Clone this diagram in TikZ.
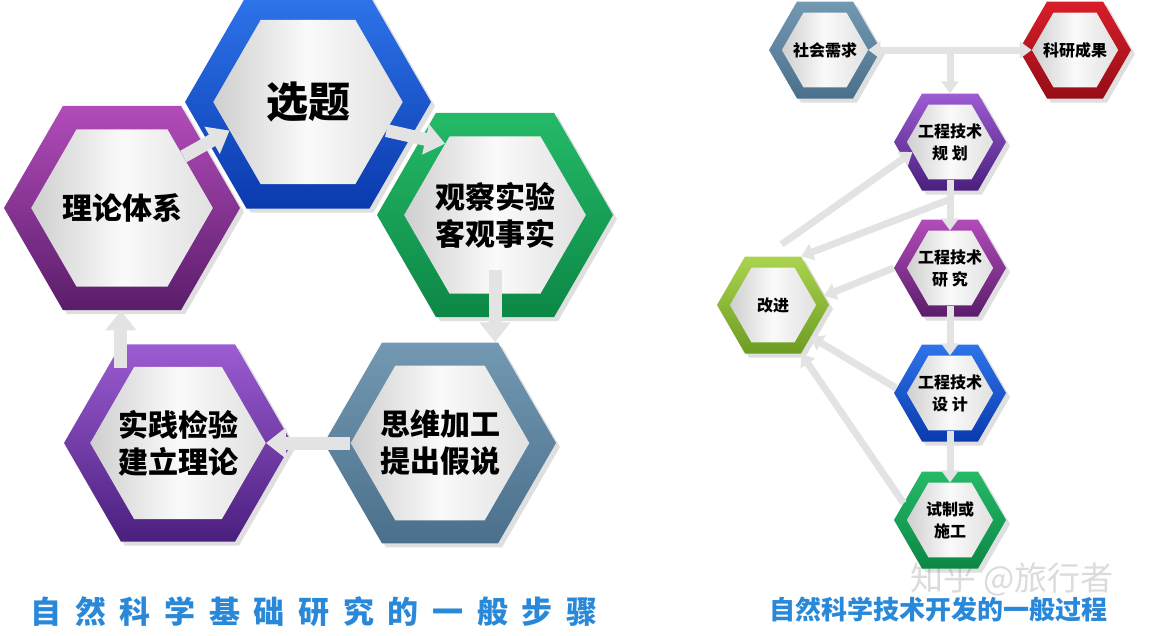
\documentclass[tikz,border=0pt]{standalone}
\usepackage{fontspec}
\setmainfont{Noto Sans CJK SC}
\usetikzlibrary{shapes.geometric,arrows.meta,shadows,calc}

\definecolor{topicLight}{HTML}{2E74EA}
\definecolor{topicDark}{HTML}{0A3AAE}
\definecolor{theoryLight}{HTML}{B24CBA}
\definecolor{theoryDark}{HTML}{5A1D6A}
\definecolor{obsLight}{HTML}{25BA68}
\definecolor{obsDark}{HTML}{0C8745}
\definecolor{thinkLight}{HTML}{7398B2}
\definecolor{thinkDark}{HTML}{4A708C}
\definecolor{pracLight}{HTML}{9C5CD2}
\definecolor{pracDark}{HTML}{4A1F7E}
\definecolor{redLight}{HTML}{D81E2A}
\definecolor{redDark}{HTML}{960D16}
\definecolor{limeLight}{HTML}{ABD44E}
\definecolor{limeDark}{HTML}{6C9C22}
\definecolor{titleblue}{HTML}{2A88D8}

\tikzset{
  hexrim/.style={regular polygon, regular polygon sides=6, inner sep=0pt, draw=none,
    drop shadow={opacity=0.25, shadow xshift=4pt, shadow yshift=-4pt}},
  hexface/.style={regular polygon, regular polygon sides=6, inner sep=0pt, draw=none,
    left color=gray!38, right color=gray!24, middle color=gray!4},
  bigflow/.style={draw=gray!22, line width=13pt, -{Triangle[width=30pt,length=20pt]}},
  smallflow/.style={draw=gray!22, line width=7pt, -{Triangle[width=17pt,length=12pt]}},
  twoway/.style={smallflow, {Triangle[width=17pt,length=12pt]}-{Triangle[width=17pt,length=12pt]}},
}

% name, position, size, light colour, dark colour, label
\newcommand{\hexcell}[6]{%
  \node[hexrim, minimum size=#3, top color=#4, bottom color=#5] (#1-rim) at #2 {};
  \node[hexface, minimum size=0.77*#3] (#1-face) at #2 {};
  \node[align=center] (#1) at #2 {#6};
}

\begin{document}
\begin{tikzpicture}[x=1pt, y=-1pt]
  \useasboundingbox (0,0) rectangle (1149,635);

  \begin{scope}[font=\fontsize{30}{37}\selectfont\bfseries]
    \hexcell{topic}{(308,102)}{246pt}{topicLight}{topicDark}{\fontsize{42}{46}\selectfont 选题}
    \hexcell{theory}{(122,208)}{236pt}{theoryLight}{theoryDark}{理论体系}
    \hexcell{obs}{(495,215)}{236pt}{obsLight}{obsDark}{观察实验\\客观事实}
    \hexcell{think}{(440,443)}{232pt}{thinkLight}{thinkDark}{思维加工\\提出假说}
    \hexcell{prac}{(178,443)}{228pt}{pracLight}{pracDark}{实践检验\\建立理论}

    \draw[bigflow] (theory-face.40) -- (topic-face.200);
    \draw[bigflow] (topic-face.-20) -- (obs-face.125);
    \draw[bigflow] ([yshift=24pt]obs-face.south) -- (obs-face.south |- think-rim.north);
    \draw[bigflow] (think-face.180) -- (prac-face.0);
    \draw[bigflow] ([yshift=-24pt]prac-rim.120) -- (prac-rim.120 |- theory-rim.south);
  \end{scope}

  \node[font=\fontsize{33}{35}\selectfont, text=gray!28] (mark) at (1012,579) {知乎 @旅行者};

  \begin{scope}[font=\fontsize{16}{22}\selectfont\bfseries]
    \hexcell{demand}{(825,50)}{112pt}{thinkLight}{thinkDark}{社会需求}
    \hexcell{result}{(1075,50)}{112pt}{redLight}{redDark}{科研成果}
    \hexcell{plan}{(950,142)}{112pt}{pracLight}{pracDark}{工程技术\\规 划}
    \hexcell{research}{(950,268)}{112pt}{theoryLight}{theoryDark}{工程技术\\研 究}
    \hexcell{improve}{(773,305)}{112pt}{limeLight}{limeDark}{改进}
    \hexcell{design}{(950,393)}{112pt}{topicLight}{topicDark}{工程技术\\设 计}
    \hexcell{trial}{(950,520)}{112pt}{obsLight}{obsDark}{试制或\\施工}

    \coordinate (split) at ($(demand)!0.5!(result)$);
    \coordinate (fork) at ($(plan-rim.south)!0.3!(research-rim.north)$);
    \draw[twoway] (demand-face.0) -- (result-face.180);
    \draw[smallflow] (split) -- (plan-rim.north);
    \draw[smallflow] (plan-face.south) -- (research-face.north);
    \draw[smallflow] (research-face.south) -- (design-face.north);
    \draw[smallflow] (design-face.south) -- (trial-face.north);
    \draw[smallflow] ([yshift=12pt]improve-rim.80) -- (plan-face.195);
    \draw[smallflow] (fork) -- (improve-rim.60);
    \draw[smallflow] (research-rim.180) -- (improve-rim.10);
    \draw[smallflow] (design-rim.175) -- (improve-rim.-40);
    \draw[smallflow] (trial-rim.160) -- (improve-rim.-60);
  \end{scope}

  \node[font=\fontsize{31}{33}\selectfont\bfseries\addfontfeature{LetterSpace=44}, text=titleblue] (title-left) at (314,612) {自然科学基础研究的一般步骤};
  \node[font=\fontsize{26}{28}\selectfont\bfseries, text=titleblue] (title-right) at (938,610) {自然科学技术开发的一般过程};
\end{tikzpicture}
\end{document}
